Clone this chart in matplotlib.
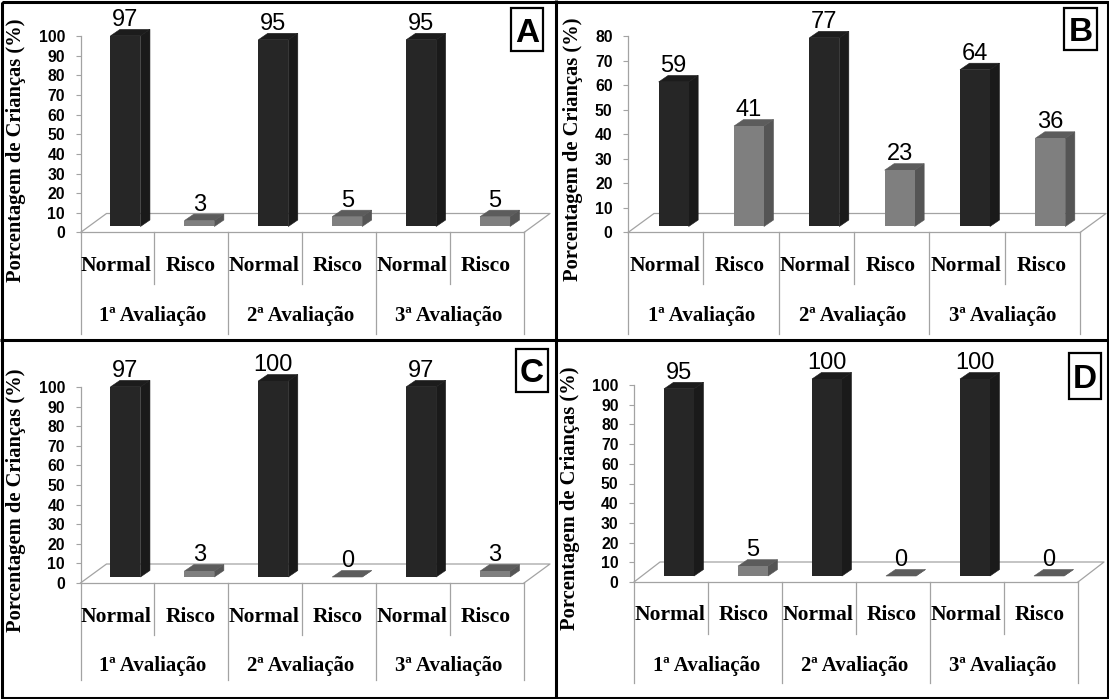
import matplotlib
matplotlib.use("Agg")
import matplotlib.pyplot as plt
from matplotlib.patches import Polygon, Rectangle

# --- data ---
categories = ["Normal", "Risco", "Normal", "Risco", "Normal", "Risco"]
groups = ["1ª Avaliação", "2ª Avaliação", "3ª Avaliação"]
ylabel = "Porcentagem de Crianças (%)"
values_a = [97, 3, 95, 5, 95, 5]
values_b = [59, 41, 77, 23, 64, 36]
values_c = [97, 3, 100, 0, 97, 3]
values_d = [95, 5, 100, 0, 100, 0]
ticks_100 = list(range(0, 101, 10))
ticks_80 = list(range(0, 81, 10))

# --- layout (pixels): letter, values, ticks, x0, x1, y0, ytop, back dy, long divider,
#     ylabel x, ylabel y, letter box (l, r, t, b)
panels = [
    ("A", values_a, ticks_100, 80.5, 524, 232.5, 36, 19, 101.5, 16, 150, (511, 543, 8, 51)),
    ("B", values_b, ticks_80, 628, 1080, 232.5, 36.5, 19, 101.5, 573, 149, (1064, 1097, 8, 50)),
    ("C", values_c, ticks_100, 80.5, 524, 583, 387, 19, 97, 16, 500, (516, 548, 349, 392)),
    ("D", values_d, ticks_100, 634, 1078, 582, 385, 20, 101, 570, 498, (1069, 1101, 353, 399)),
]
W, H = 1109, 699
DARK = ("#262626", "#1a1a1a", "#1c1c1c")
LIGHT = ("#7f7f7f", "#555555", "#5c5c5c")
GRID = "#a3a3a3"
SERIF = "Liberation Serif"
SANS = "Liberation Sans"

fig = plt.figure(figsize=(W / 100, H / 100), dpi=100, facecolor="white")
overlay = fig.add_axes([0, 0, 1, 1], zorder=5)
overlay.set_xlim(0, W)
overlay.set_ylim(H, 0)
overlay.axis("off")
overlay.patch.set_alpha(0)

for letter, vals, ticks, x0, x1, y0, ytop, back, longdiv, ylx, yly, box in panels:
    ax = fig.add_axes([x0 / W, 1 - y0 / H, (x1 - x0) / W, (y0 - ytop) / H])
    ymax = ticks[-1]
    ax.set_xlim(0, 6)
    ax.set_ylim(0, ymax)
    ax.patch.set_alpha(0)
    px = 6 / (x1 - x0)             # data units per pixel, x
    py = ymax / (y0 - ytop)        # data units per pixel, y
    for s in ("top", "right", "bottom"):
        ax.spines[s].set_visible(False)
    ax.spines["left"].set_color(GRID)
    ax.spines["left"].set_linewidth(0.9)
    ax.set_xticks([])
    ax.set_yticks(ticks)
    ax.set_yticklabels([str(t) for t in ticks], family=SANS, weight="bold", fontsize=11.3, color="black")
    ax.tick_params(axis="y", length=3.6, width=0.8, color=GRID, pad=7.5)

    # floor
    dxb, dyb = 26 * px, back * py
    line = dict(color=GRID, lw=0.9, clip_on=False, zorder=1)
    ax.plot([0, dxb, 6 + dxb, 6], [0, dyb, dyb, 0], **line)
    ax.plot([0, 6], [0, 0], **line)

    # category dividers and labels below the axis
    for i in range(7):
        drop = (longdiv if i % 2 == 0 else 51.5) * py
        ax.plot([i, i], [0, -drop], **line)
    for i, c in enumerate(categories):
        ax.text(i + 0.5 - 1 * px, -38.5 * py, c, ha="center", va="baseline",
                family=SERIF, weight="bold", fontsize=15.5, color="black")
    for j, g in enumerate(groups):
        ax.text(2 * j + 1 - 1.5 * px, -88.5 * py, g, ha="center", va="baseline",
                family=SERIF, weight="bold", fontsize=15, color="black")

    # 3-D looking bars
    base = 6 * py
    width = 30 * px
    dx, dy = 9.5 * px, 6.5 * py
    xs = [i + 0.5 + 8 * px for i in range(6)]
    for i, (x, v) in enumerate(zip(xs, vals)):
        front, side, top = DARK if i % 2 == 0 else LIGHT
        l, r, t = x - width / 2, x + width / 2, base + v
        ax.add_patch(Polygon([(r, base), (r + dx, base + dy), (r + dx, t + dy), (r, t)],
                             closed=True, fc=side, ec=side, lw=0.4, zorder=3, clip_on=False))
        ax.add_patch(Polygon([(l, t), (l + dx, t + dy), (r + dx, t + dy), (r, t)],
                             closed=True, fc=top, ec=top, lw=0.4, zorder=3, clip_on=False))
        ax.bar(x, v, width=width, bottom=base, color=front, linewidth=0, zorder=3.5, clip_on=False)
        ax.text(x, t + 10 * py, str(v), ha="center", va="baseline", family=SANS,
                fontsize=17, color="black", zorder=4, clip_on=False)

    # axis title and panel letter
    overlay.text(ylx, yly, ylabel, rotation=90, ha="center", va="center",
                 family=SERIF, weight="bold", fontsize=14.8, color="black")
    l, r, t, b = box
    overlay.add_patch(Rectangle((l, t), r - l, b - t, fc="white", ec="black", lw=1.6))
    overlay.text((l + r) / 2, (t + b) / 2 + 12, letter, ha="center", va="baseline",
                 family=SANS, weight="bold", fontsize=24, color="black")

# panel frames
frame = dict(color="black", lw=2.2, solid_capstyle="butt")
overlay.plot([1.5, 1107.5, 1107.5, 1.5, 1.5], [1.5, 1.5, 697.5, 697.5, 1.5], **frame)
overlay.plot([555.5, 555.5], [0, H], **frame)
overlay.plot([0, W], [340, 340], **frame)

fig.savefig("out.png", dpi=100, facecolor="white")
